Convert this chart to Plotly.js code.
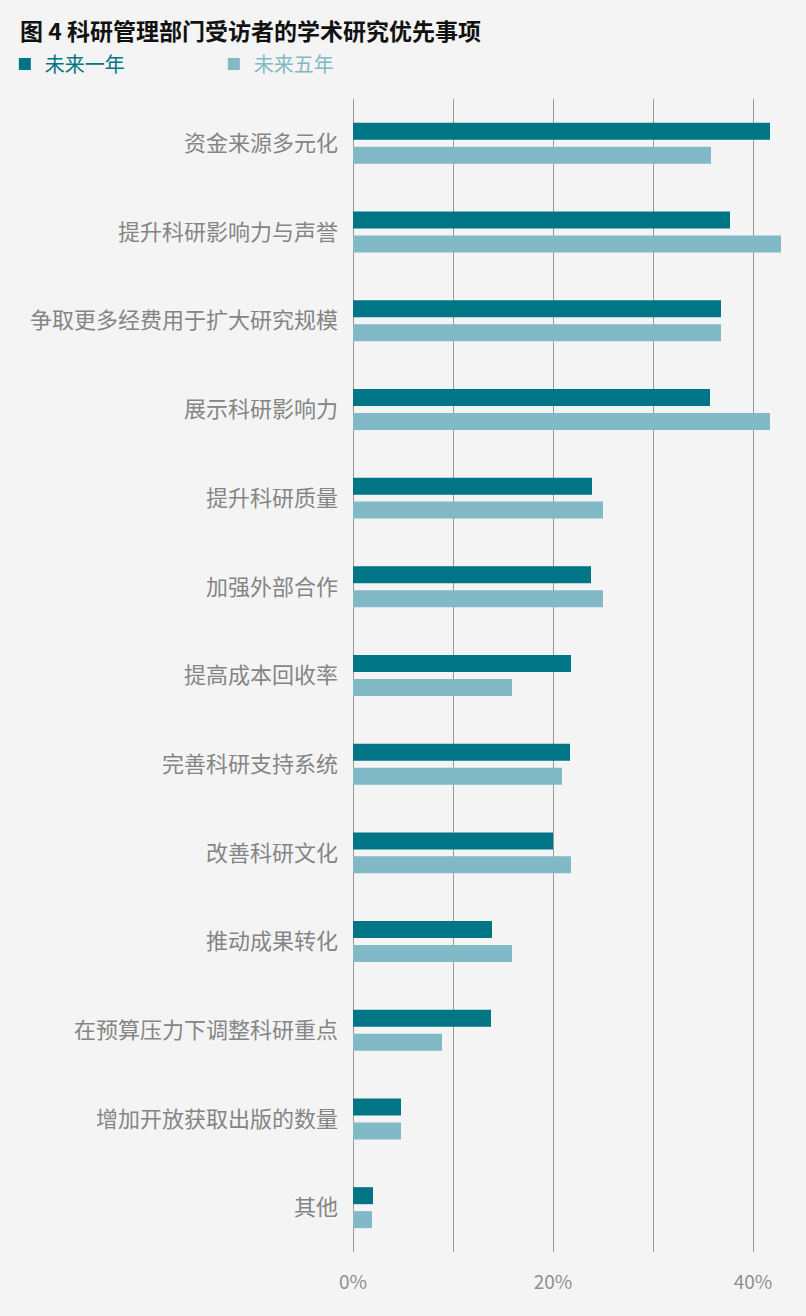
<!DOCTYPE html>
<html>
<head>
<meta charset="utf-8">
<script src="https://cdn.plot.ly/plotly-3.0.1.min.js"></script>
<style>
  html, body { margin: 0; padding: 0; background: #f4f4f4; }
  #chart { width: 806px; height: 1316px; }
</style>
</head>
<body>
<div id="chart"></div>
<script>
(function () {
  "use strict";

  // categories, top to bottom
  var categories = [
    "资金来源多元化",
    "提升科研影响力与声誉",
    "争取更多经费用于扩大研究规模",
    "展示科研影响力",
    "提升科研质量",
    "加强外部合作",
    "提高成本回收率",
    "完善科研支持系统",
    "改善科研文化",
    "推动成果转化",
    "在预算压力下调整科研重点",
    "增加开放获取出版的数量",
    "其他"
  ];
  // share of respondents, %
  var nextYear = [41.7, 37.7, 36.8, 35.7, 23.9, 23.8, 21.8, 21.7, 20.0, 13.9, 13.8, 4.8, 2.0];
  var nextFiveYears = [35.8, 42.8, 36.8, 41.7, 25.0, 25.0, 15.9, 20.9, 21.8, 15.9, 8.9, 4.8, 1.9];
  var seriesNames = ["未来一年", "未来五年"];

  var dark = "#007585";
  var light = "#82b9c6";
  var grey = "#858585";
  var font = "'Noto Sans CJK SC', 'Noto Sans', sans-serif";

  var traces = [
    {
      type: "bar", orientation: "h", y: categories, x: nextYear,
      name: '<span style="color:' + dark + '">' + seriesNames[0] + "</span>",
      marker: { color: dark }, hoverinfo: "x+y"
    },
    {
      type: "bar", orientation: "h", y: categories, x: nextFiveYears,
      name: '<span style="color:' + light + '">' + seriesNames[1] + "</span>",
      marker: { color: light }, hoverinfo: "x+y"
    }
  ];

  var layout = {
    width: 806, height: 1316,
    margin: { l: 353, r: 13, t: 99, b: 64 },
    paper_bgcolor: "#f4f4f4", plot_bgcolor: "#f4f4f4",
    font: { family: font, color: grey },
    title: {
      text: "<b>图 4 科研管理部门受访者的学术研究优先事项</b>",
      font: { family: font, size: 23, color: "#111111" },
      x: 20 / 806, xref: "container", xanchor: "left",
      y: 1 - 32 / 1316, yref: "container", yanchor: "middle"
    },
    barmode: "group", bargap: 0.46, bargroupgap: 0.29,
    showlegend: true,
    legend: {
      orientation: "h", xref: "container", yref: "container",
      x: 0.006, xanchor: "left", y: 1 - 64 / 1316, yanchor: "middle",
      entrywidth: 164, entrywidthmode: "pixels",
      font: { family: font, size: 20 }, bgcolor: "rgba(0,0,0,0)"
    },
    xaxis: {
      range: [0, 44], dtick: 20, ticksuffix: "%",
      showgrid: true, gridcolor: "#9a9a9a", gridwidth: 1,
      minor: { dtick: 10, showgrid: true, gridcolor: "#9a9a9a", gridwidth: 1 },
      zeroline: true, zerolinecolor: "#9a9a9a", zerolinewidth: 1,
      showline: false, ticks: "", ticklabelstandoff: 17,
      tickfont: { family: font, size: 19, color: "#8f8f8f" },
      fixedrange: true
    },
    yaxis: {
      autorange: "reversed", showgrid: false, zeroline: false, showline: false,
      ticks: "", ticklabelstandoff: 14,
      tickfont: { family: font, size: 22, color: grey },
      fixedrange: true
    }
  };

  Plotly.newPlot("chart", traces, layout, { displayModeBar: false, staticPlot: true });
})();
</script>
</body>
</html>
